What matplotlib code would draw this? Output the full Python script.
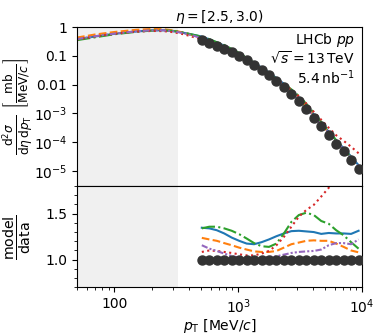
import numpy as np
import matplotlib
matplotlib.use('Agg')
import matplotlib.pyplot as plt
from matplotlib.ticker import FixedLocator, FuncFormatter, MultipleLocator

# measured points (LHCb pp 13 TeV, eta in [2.5,3.0))
pt_data = [509, 585, 672, 772, 887, 1019, 1171, 1345, 1545, 1775, 2039,
           2343, 2691, 3092, 3552, 4081, 4688, 5386, 6188, 7109, 8167, 9383]
xsec_data = [0.345, 0.279, 0.219, 0.177, 0.132, 0.0986, 0.0698, 0.0481,
             0.0331, 0.0216, 0.0134, 0.00828, 0.00485, 0.00270, 0.00143,
             0.000713, 0.000356, 0.000178, 0.0000891, 0.0000483, 0.0000248,
             0.0000121]
rel_err = [0.03] * 22

# model / data ratios at the measured points
ratio_blue = [1.347, 1.34, 1.32, 1.285, 1.24, 1.205, 1.175, 1.168, 1.19, 1.22, 1.255,
              1.285, 1.31, 1.314, 1.307, 1.30, 1.28, 1.29, 1.285, 1.285, 1.28, 1.314]
ratio_orange = [1.237, 1.22, 1.205, 1.18, 1.157, 1.131, 1.11, 1.09, 1.084, 1.084, 1.095,
                1.131, 1.168, 1.186, 1.205, 1.21, 1.205, 1.205, 1.175, 1.139, 1.10, 1.08]
ratio_green = [1.34, 1.358, 1.358, 1.34, 1.314, 1.277, 1.23, 1.18, 1.146, 1.139, 1.175,
               1.285, 1.41, 1.485, 1.51, 1.485, 1.42, 1.39, 1.32, 1.265, 1.19, 1.12]
ratio_red = [1.084, 1.10, 1.095, 1.084, 1.073, 1.058, 1.047, 1.047, 1.066, 1.095, 1.157,
             1.248, 1.358, 1.467, 1.54, 1.595, 1.686, 1.78, 1.95, 2.3, 2.8, 3.4]
ratio_purple = [1.157, 1.12, 1.095, 1.066, 1.04, 1.022, 1.01, 1.004, 1.01, 1.03, 1.036,
                1.055, 1.073, 1.084, 1.09, 1.095, 1.11, 1.157, 1.18, 1.18, 1.168, 1.22]

# model predictions below the measured range
pt_low = [50, 70, 100, 150, 200, 250, 300, 350, 400, 450]
low_blue = [0.37, 0.47, 0.58, 0.70, 0.76, 0.77, 0.72, 0.65, 0.58, 0.52]
low_orange = [0.43, 0.55, 0.67, 0.80, 0.85, 0.84, 0.76, 0.66, 0.57, 0.49]
low_green = [0.35, 0.44, 0.56, 0.68, 0.75, 0.77, 0.73, 0.66, 0.58, 0.52]
low_red = [0.37, 0.47, 0.58, 0.69, 0.73, 0.72, 0.66, 0.58, 0.50, 0.43]
low_purple = [0.38, 0.48, 0.59, 0.71, 0.77, 0.77, 0.71, 0.63, 0.55, 0.48]

pt_cut = 325

models = [
    (ratio_blue, low_blue, 'tab:blue', '-'),
    (ratio_orange, low_orange, 'tab:orange', '--'),
    (ratio_green, low_green, 'tab:green', '-.'),
    (ratio_red, low_red, 'tab:red', ':'),
    (ratio_purple, low_purple, 'tab:purple', (0, (3, 1, 1, 1, 1, 1))),
]

plt.rcParams['font.size'] = 10
fig = plt.figure(figsize=(3.82, 3.36), dpi=100)
ax1 = fig.add_axes([0.2016, 0.4464, 0.746, 0.4732])
ax2 = fig.add_axes([0.2016, 0.1449, 0.746, 0.3015], sharex=ax1)

pt = np.array(pt_data, dtype=float)
xs = np.array(xsec_data)
for ratio, low, c, ls in models:
    x = np.concatenate([pt_low, pt])
    y = np.concatenate([low, np.array(ratio) * xs])
    ax1.plot(x, y, color=c, ls=ls, lw=1.5)
    ax2.plot(pt, ratio, color=c, ls=ls, lw=1.5)

ax1.plot(pt, xs, 'o', color='#333333', ms=6.5, zorder=5)
ax2.errorbar(pt, np.ones(len(pt)), yerr=rel_err, fmt='o', color='#333333',
             ms=6.5, elinewidth=1.5, capsize=0, zorder=5)

for ax in (ax1, ax2):
    ax.axvspan(50, pt_cut, color='#f0f0f0', zorder=0, lw=0)
    ax.set_xscale('log')
    ax.set_xlim(50, 1e4)

ax1.set_yscale('log')
ax1.set_ylim(3e-6, 1.0)
ylabs = {1: '1', 0.1: '0.1', 0.01: '0.01'}
ax1.yaxis.set_major_locator(FixedLocator([1, 0.1, 0.01, 1e-3, 1e-4, 1e-5]))
ax1.yaxis.set_major_formatter(FuncFormatter(
    lambda v, p: ylabs.get(round(v, 6), r'$10^{%d}$' % round(np.log10(v)))))
ax1.yaxis.set_minor_locator(FixedLocator([]))
ax1.tick_params(axis='x', which='both', bottom=False, labelbottom=False)
ax1.set_ylabel(r'$\frac{\mathrm{d}^2\sigma}{\mathrm{d}\eta\,\mathrm{d}p_\mathrm{T}}$'
               r' $\left[\frac{\mathrm{mb}}{\mathrm{MeV}/c}\right]$', fontsize=12.5)
ax1.set_title(r'$\eta = [2.5, 3.0)$', fontsize=10, pad=4)
ax1.text(0.975, 0.975, 'LHCb $pp$\n' + r'$\sqrt{s} = 13\,$TeV' + '\n' + r'$5.4\,$nb$^{-1}$',
         transform=ax1.transAxes, ha='right', va='top', fontsize=10, linespacing=1.1)

ax2.set_ylim(0.7, 1.8)
ax2.yaxis.set_major_locator(FixedLocator([1.0, 1.5]))
ax2.yaxis.set_minor_locator(MultipleLocator(0.1))
ax2.yaxis.set_major_formatter(FuncFormatter(lambda v, p: '%.1f' % v))
ax2.xaxis.set_major_formatter(FuncFormatter(
    lambda v, p: '100' if round(v) == 100 else r'$10^{%d}$' % round(np.log10(v))))
ax2.set_ylabel(r'$\frac{\mathrm{model}}{\mathrm{data}}$', fontsize=14.5)
ax2.set_xlabel(r'$p_\mathrm{T}$ [MeV/$c$]', labelpad=1)

ax1.yaxis.set_label_coords(-0.148, 0.5)
ax2.yaxis.set_label_coords(-0.152, 0.5)

fig.savefig('out.png', dpi=100)
